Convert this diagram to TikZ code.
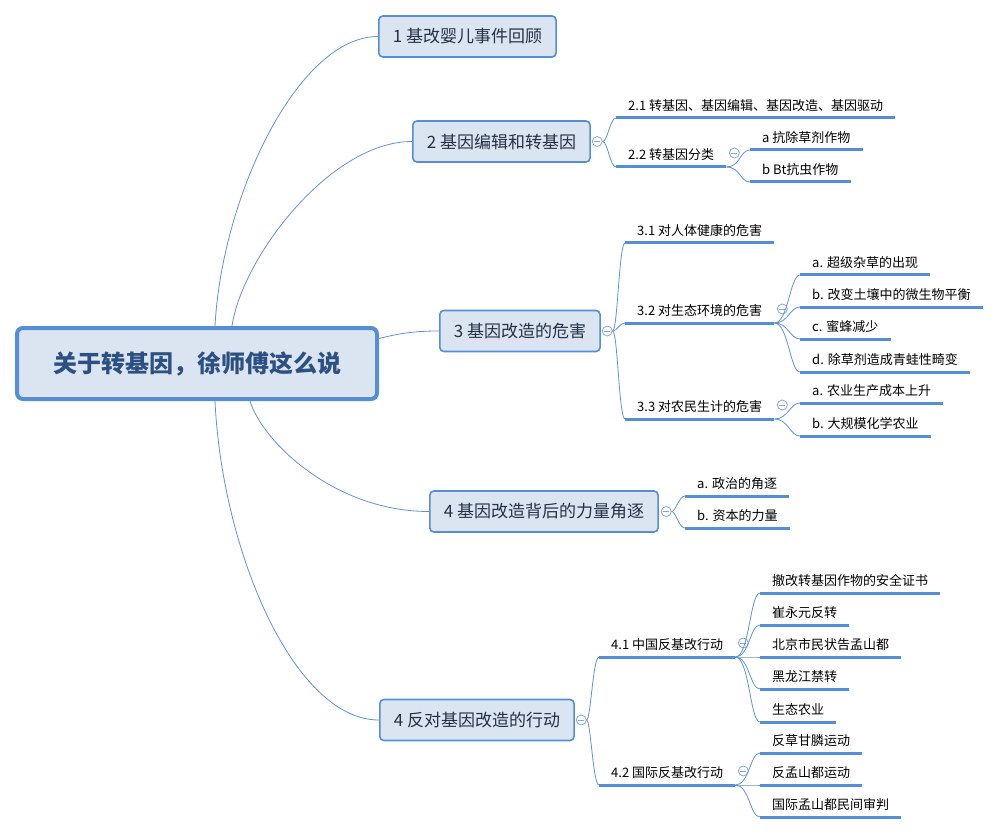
\documentclass[tikz,border=0pt]{standalone}
\usepackage{fontspec}
\usepackage{tikz}
\usetikzlibrary{positioning}
\newfontfamily\cjk{Noto Sans CJK SC}
\definecolor{boxc}{RGB}{85,142,213}
\definecolor{boxf}{RGB}{219,229,241}
\definecolor{linkc}{RGB}{98,146,212}
\definecolor{foldc}{RGB}{135,168,214}
\definecolor{rootc}{RGB}{45,80,130}
\definecolor{topc}{RGB}{36,48,70}
\tikzstyle{root}=[draw=boxc,fill=boxf,line width=4pt,rounded corners=6pt,minimum width=360pt,minimum height=71pt,font=\cjk\bfseries\fontsize{24}{28}\selectfont,text=rootc]
\tikzstyle{topic}=[draw=boxc,fill=boxf,line width=1.6pt,rounded corners=4pt,minimum height=41pt,inner xsep=14pt,font=\cjk\fontsize{17}{20}\selectfont,text=topc,anchor=west]
\tikzstyle{leaf}=[anchor=south west,inner xsep=12pt,inner ysep=5.4pt,text depth=2pt,text height=11pt,font=\cjk\fontsize{13}{16}\selectfont,text=black]
\tikzstyle{uline}=[draw=boxc,line width=3pt]
\tikzstyle{link}=[draw=linkc,line width=0.8pt]
\tikzstyle{fold}=[circle,draw=foldc,fill=white,line width=0.8pt,minimum size=10pt,inner sep=0pt,path picture={\draw[foldc,line width=0.8pt] ([xshift=-3pt]path picture bounding box.center) -- ([xshift=3pt]path picture bounding box.center);}]
\newcommand{\twig}[3]{
  \node[leaf] (#1) at (#2) {#3};
  \draw[uline] (#1.south west) -- (#1.south east);
}

\begin{document}
\begin{tikzpicture}[x=1pt,y=-1pt]
  \path[use as bounding box,fill=white] (0,0) rectangle (998,834);

  % root and main topics
  \node[root] (root) at (197,363.5) {关于转基因，徐师傅这么说};
  \node[topic] (b1) at (378,36.5) {1 基改婴儿事件回顾};
  \node[topic] (b2) at (412,141.5) {2 基因编辑和转基因};
  \node[topic] (b3) at (439,331) {3 基因改造的危害};
  \node[topic] (b4a) at (429,511.5) {4 基因改造背后的力量角逐};
  \node[topic] (b4b) at (379,720) {4 反对基因改造的行动};

  \draw[link] ([xshift=18pt]root.north) .. controls +(7,-130) and +(-80,0) .. (b1.west);
  \draw[link] ([xshift=35pt]root.north) .. controls +(10,-68) and +(-82,0) .. (b2.west);
  \draw[link] ([yshift=25pt]root.east) .. controls +(20,-5) and +(-25,0) .. (b3.west);
  \draw[link] ([xshift=53pt]root.south) .. controls +(12,40) and +(-95,0) .. (b4a.west);
  \draw[link] ([xshift=18pt]root.south) .. controls +(7,150) and +(-85,0) .. (b4b.west);

  \node[fold, right=1pt of b2] (f2) {};
  \node[fold, right=1pt of b3] (f3) {};
  \node[fold, right=2pt of b4a] (f4a) {};
  \node[fold, right=1pt of b4b] (f4b) {};

  % branch 2
  \twig{n21}{616,118}{2.1 转基因、基因编辑、基因改造、基因驱动}
  \twig{n22}{616,167}{2.2 转基因分类}
  \twig{n22a}{750,150}{a 抗除草剂作物}
  \twig{n22b}{750,182}{b Bt抗虫作物}
  \node[fold] (f22) at ([xshift=8pt,yshift=14pt]n22.south east) {};
  \foreach \n in {n21,n22}
    \draw[link] (f2.east) .. controls +(5,0) and +(-6,0) .. (\n.south west);
  \foreach \n in {n22a,n22b}
    \draw[link] (n22.south east) .. controls +(14,0) and +(-10,0) .. (\n.south west);

  % branch 3
  \twig{n31}{625,243}{3.1 对人体健康的危害}
  \twig{n32}{625,323}{3.2 对生态环境的危害}
  \twig{n33}{625,419}{3.3 对农民生计的危害}
  \twig{n32a}{800,275}{a. 超级杂草的出现}
  \twig{n32b}{800,307}{b. 改变土壤中的微生物平衡}
  \twig{n32c}{800,339}{c. 蜜蜂减少}
  \twig{n32d}{800,372}{d. 除草剂造成青蛙性畸变}
  \twig{n33a}{800,403}{a. 农业生产成本上升}
  \twig{n33b}{800,436}{b. 大规模化学农业}
  \node[fold] (f32) at ([xshift=8pt,yshift=14pt]n32.south east) {};
  \node[fold] (f33) at ([xshift=8pt,yshift=14pt]n33.south east) {};
  \foreach \n in {n31,n32,n33}
    \draw[link] (f3.east) .. controls +(5,0) and +(-6,0) .. (\n.south west);
  \foreach \n in {n32a,n32b,n32c,n32d}
    \draw[link] (n32.south east) .. controls +(14,0) and +(-10,0) .. (\n.south west);
  \foreach \n in {n33a,n33b}
    \draw[link] (n33.south east) .. controls +(14,0) and +(-10,0) .. (\n.south west);

  % branch 4a
  \twig{n4a}{685,496}{a. 政治的角逐}
  \twig{n4b}{685,528}{b. 资本的力量}
  \foreach \n in {n4a,n4b}
    \draw[link] (f4a.east) .. controls +(4,0) and +(-6,0) .. (\n.south west);

  % branch 4b
  \twig{n41}{599,657}{4.1 中国反基改行动}
  \twig{n42}{599,785}{4.2 国际反基改行动}
  \twig{n41a}{760,593}{撤改转基因作物的安全证书}
  \twig{n41b}{760,625}{崔永元反转}
  \twig{n41c}{760,657}{北京市民状告孟山都}
  \twig{n41d}{760,689}{黑龙江禁转}
  \twig{n41e}{760,722}{生态农业}
  \twig{n42a}{760,753}{反草甘膦运动}
  \twig{n42b}{760,785}{反孟山都运动}
  \twig{n42c}{760,817}{国际孟山都民间审判}
  \node[fold] (f41) at ([xshift=8pt,yshift=14pt]n41.south east) {};
  \node[fold] (f42) at ([xshift=8pt,yshift=14pt]n42.south east) {};
  \foreach \n in {n41,n42}
    \draw[link] (f4b.east) .. controls +(4,0) and +(-6,0) .. (\n.south west);
  \foreach \n in {n41a,n41b,n41c,n41d,n41e}
    \draw[link] (n41.south east) .. controls +(14,0) and +(-10,0) .. (\n.south west);
  \foreach \n in {n42a,n42b,n42c}
    \draw[link] (n42.south east) .. controls +(14,0) and +(-10,0) .. (\n.south west);

\end{tikzpicture}
\end{document}
